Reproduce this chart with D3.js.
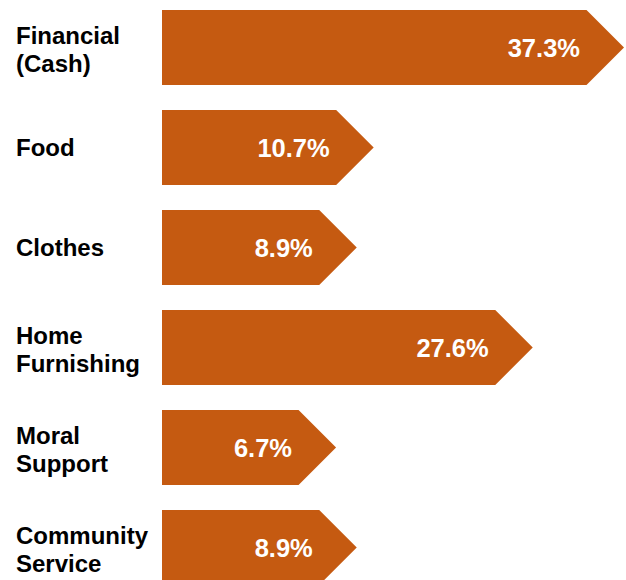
<!DOCTYPE html>
<html>
<head>
<meta charset="utf-8">
<script src="https://cdn.jsdelivr.net/npm/d3@7/dist/d3.min.js"></script>
<style>
  html, body { margin: 0; padding: 0; background: #fff; }
  svg { display: block; }
</style>
</head>
<body>
<div id="chart"></div>
<script>
// Share of support received, by type
const categories = ["Financial (Cash)", "Food", "Clothes", "Home Furnishing", "Moral Support", "Community Service"];
const labelLines = [["Financial", "(Cash)"], ["Food"], ["Clothes"], ["Home", "Furnishing"], ["Moral", "Support"], ["Community", "Service"]];
const values = [37.3, 10.7, 8.9, 27.6, 6.7, 8.9];
const valueLabels = ["37.3%", "10.7%", "8.9%", "27.6%", "6.7%", "8.9%"];

const W = 626, H = 580;
const barLeft = 162;
const fill = "#C55A11";
const font = "'Liberation Sans', Arial, Helvetica, sans-serif";

const svg = d3.select("#chart").append("svg")
  .attr("width", W).attr("height", H);

const y = d3.scaleBand()
  .domain(categories)
  .range([10, 585])
  .paddingInner(0.25)
  .paddingOuter(0);

// arrow tip position for each value
const x = d3.scaleLinear()
  .domain([0, 37.3])
  .range([barLeft + 111, 624]);

const bh = y.bandwidth();
const head = bh / 2;

const rows = svg.selectAll("g.row")
  .data(categories.map((c, i) => ({ c, v: values[i], lab: valueLabels[i], lines: labelLines[i] })))
  .join("g")
  .attr("class", "row")
  .attr("transform", d => `translate(0,${y(d.c)})`);

rows.append("path")
  .attr("fill", fill)
  .attr("d", d => {
    const tip = x(d.v);
    const bodyEnd = tip - head;
    return `M${barLeft},0H${bodyEnd}L${tip},${bh / 2}L${bodyEnd},${bh}H${barLeft}Z`;
  });

rows.append("text")
  .attr("x", d => x(d.v) - 44)
  .attr("y", bh / 2 + 9.5)
  .attr("text-anchor", "end")
  .attr("fill", "#fff")
  .attr("font-family", font)
  .attr("font-weight", "bold")
  .attr("font-size", 25.5)
  .text(d => d.lab);

const lab = rows.append("text")
  .attr("font-family", font)
  .attr("font-weight", "bold")
  .attr("font-size", 24)
  .attr("fill", "#000");

lab.each(function(d) {
  const t = d3.select(this);
  const lineH = 28.5;
  const first = d.lines.length === 1 ? bh / 2 + 8 : bh / 2 - 4;
  d.lines.forEach((s, i) => {
    t.append("tspan").attr("x", 16).attr("y", first + i * lineH).text(s);
  });
});
</script>
</body>
</html>
